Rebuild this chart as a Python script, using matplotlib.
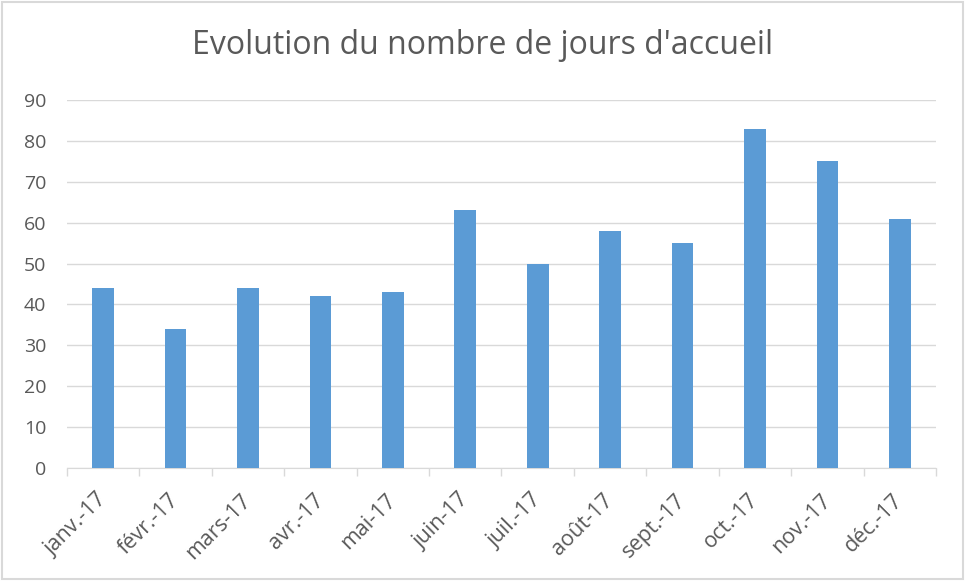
import matplotlib
matplotlib.use("Agg")
from matplotlib import pyplot as plt
from matplotlib.patches import Rectangle
import numpy as np

months = ["janv.-17", "févr.-17", "mars-17", "avr.-17", "mai-17", "juin-17",
          "juil.-17", "août-17", "sept.-17", "oct.-17", "nov.-17", "déc.-17"]
jours = [44, 34, 44, 42, 43, 63, 50, 58, 55, 83, 75, 61]
yticks = list(range(0, 100, 10))

plt.rcParams['font.family'] = ['Open Sans', 'DejaVu Sans']

fig = plt.figure(figsize=(9.65, 5.81), dpi=100)
ax = fig.add_axes([67 / 965, 1 - 468 / 581, (936 - 67) / 965, (468 - 100) / 581])

x = np.arange(len(months))
ax.bar(x, jours, width=0.3, color="#5B9BD5", zorder=3)

ax.set_xlim(-0.5, len(months) - 0.5)
ax.set_ylim(0, 90)
ax.set_yticks(yticks)
ax.tick_params(axis='y', length=0, labelsize=14, labelcolor="#595959", pad=15)
ax.yaxis.grid(True, color="#D9D9D9", linewidth=1, zorder=0)

ax.set_xticks(x)
ax.set_xticklabels(months, rotation=45, ha='right', va='center', rotation_mode='anchor')
ax.tick_params(axis='x', which='major', length=0, labelsize=15.5, labelcolor="#595959", pad=21)
ax.set_xticks(np.arange(-0.5, len(months), 1), minor=True)
ax.tick_params(axis='x', which='minor', length=6, color="#D9D9D9", width=1)

for s in ['top', 'right', 'left']:
    ax.spines[s].set_visible(False)
ax.spines['bottom'].set_color("#D9D9D9")

fig.text(0.5, 1 - 46 / 581, "Evolution du nombre de jours d'accueil",
         ha='center', va='center', fontsize=23, color="#595959")

fig.patches.append(Rectangle((0.002, 0.003), 0.996, 0.994, transform=fig.transFigure,
                             fill=False, edgecolor="#D9D9D9", linewidth=1.5))

fig.savefig("out.png", dpi=100)
